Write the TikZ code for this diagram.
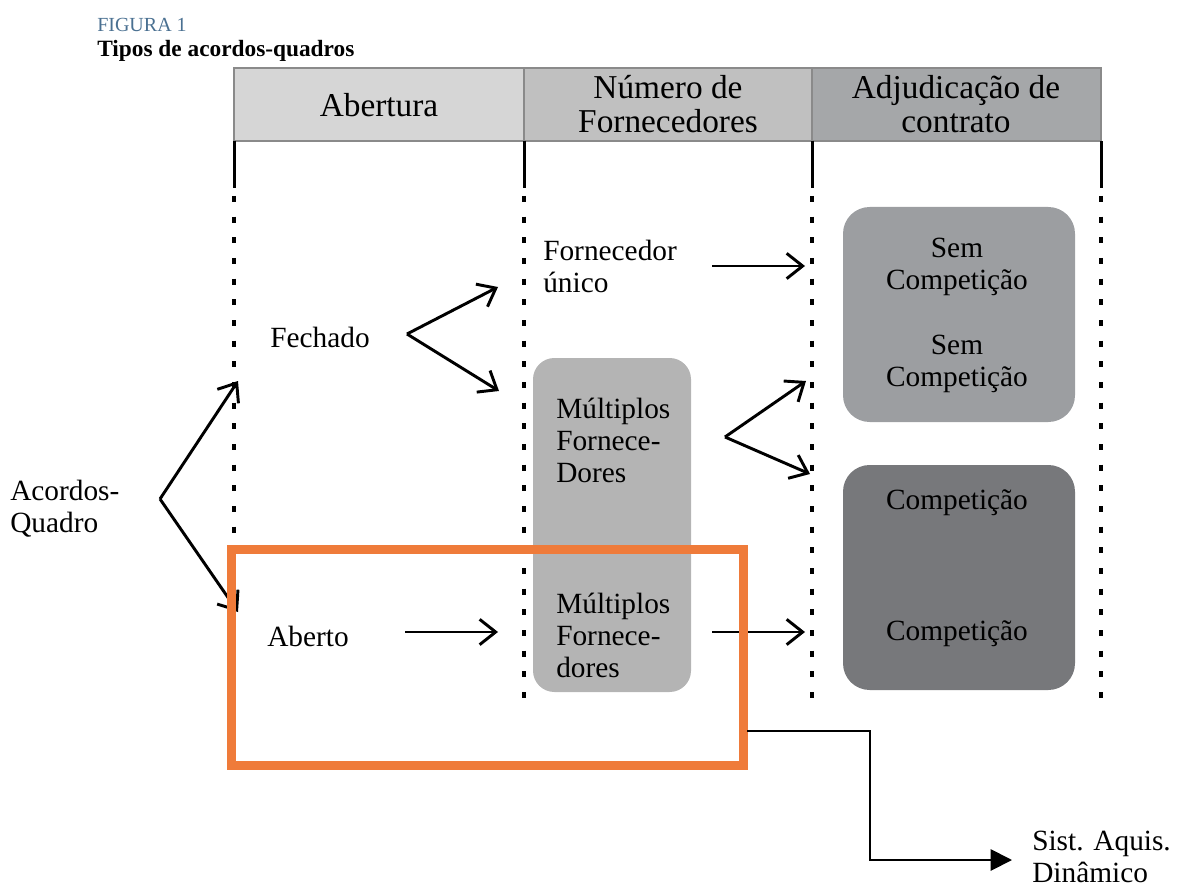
\documentclass[tikz,border=0pt]{standalone}
\usepackage{fontspec}
\setmainfont{Liberation Serif}
\usetikzlibrary{arrows.meta}
\definecolor{hdrA}{HTML}{D6D6D6}
\definecolor{hdrB}{HTML}{C0C0C0}
\definecolor{hdrC}{HTML}{A5A7A9}
\definecolor{hdrLine}{HTML}{8A8A8A}
\definecolor{boxMid}{HTML}{B4B4B4}
\definecolor{boxSem}{HTML}{9C9EA1}
\definecolor{boxComp}{HTML}{77787B}
\definecolor{frameOr}{HTML}{EF7B3A}
\definecolor{figBlue}{HTML}{4A7091}

\begin{document}
\begin{tikzpicture}[x=0.75pt,y=-0.75pt,
  hdrtext/.style={font=\fontsize{25}{25.5}\selectfont, align=center, inner sep=0},
  lbl/.style={font=\fontsize{22}{24}\selectfont, inner sep=0},
  lbll/.style={lbl, align=left, anchor=west},
  lblc/.style={lbl, align=center},
  colsolid/.style={line width=2.25pt},
  coldots/.style={line width=2.4pt, dash pattern=on 4.5pt off 11pt},
  arr/.style={line width=2.2pt, -{Straight Barb[length=12pt,width=19pt,line width=2.2pt]}},
  conn/.style={line width=1.4pt, -{Triangle[length=16pt,width=16pt]}},
  rbox/.style={rounded corners=20pt},
]
\useasboundingbox (0,0) rectangle (1185,891);

% caption
\node[anchor=west, inner sep=0, text=figBlue, font=\fontsize{15}{16}\selectfont] (fig) at (97,25) {FIGURA 1};
\node[anchor=west, inner sep=0, font=\fontsize{17.5}{18}\selectfont\bfseries] (tit) at (97,51) {Tipos de acordos-quadros};

% header row
\fill[hdrA] (234,68) rectangle (524,141);
\fill[hdrB] (524,68) rectangle (812,141);
\fill[hdrC] (812,68) rectangle (1101,141);
\draw[hdrLine, line width=1.5pt] (234,68) rectangle (1101,141)
  (524,68) -- (524,141) (812,68) -- (812,141);
\node[hdrtext] (hA) at (379,105) {Abertura};
\node[hdrtext] (hB) at (668,104) {Número de\\Fornecedores};
\node[hdrtext] (hC) at (956,104) {Adjudicação de\\contrato};

% column separators
\foreach \cx/\cy in {234/752, 524/712, 812/705, 1101/705} {
  \draw[colsolid] (\cx,141) -- (\cx,188);
  \draw[coldots] (\cx,196) -- (\cx,\cy);
}

% shaded boxes
\fill[boxMid, rounded corners=16pt] (533,358) rectangle (691,692);
\fill[boxSem, rbox] (843,207) rectangle (1075,422);
\fill[boxComp, rbox] (843,465) rectangle (1075,690);

% labels
\node[lbll] (acq) at (10,509) {Acordos-\\Quadro};
\node[lbl] (fech) at (320,337) {Fechado};
\node[lbl] (abe) at (308,636) {Aberto};
\node[lbll] (funi) at (543,266) {Fornecedor\\único};
\node[lbll] (mf1) at (556,440) {Múltiplos\\Fornece-\\Dores};
\node[lbll] (mf2) at (556,635) {Múltiplos\\Fornece-\\dores};
\node[lblc] (sem1) at (957,267) {Sem\\Competição};
\node[lblc] (sem2) at (957,364) {Sem\\Competição};
\node[lbl] (comp1) at (957,503) {Competição};
\node[lbl] (comp2) at (957,634) {Competição};
\node[lbll, font=\fontsize{22}{24}\selectfont] (sad) at (1032,857) {Sist. Aquis.\\Dinâmico};

% arrow vertices and tips
\coordinate (acqV) at (160,499);
\coordinate (fechT) at (238,381);
\coordinate (abeT) at (238,612);
\coordinate (fechV) at (407,334);
\coordinate (funiT) at (498,287);
\coordinate (mf1T) at (499,391);
\coordinate (funiS) at (712,266);
\coordinate (sem1T) at (805,266);
\coordinate (mfV) at (725,437);
\coordinate (sem2T) at (806,381);
\coordinate (compT) at (810,474);
\coordinate (abeS) at (405,632);
\coordinate (mf2T) at (498,632);
\coordinate (mf2S) at (712,632);
\coordinate (comp2T) at (805,632);

\draw[arr] (acqV) -- (fechT);
\draw[arr] (acqV) -- (abeT);
\draw[arr] (fechV) -- (funiT);
\draw[arr] (fechV) -- (mf1T);
\draw[arr] (funiS) -- (sem1T);
\draw[arr] (mfV) -- (sem2T);
\draw[arr] (mfV) -- (compT);
\draw[arr] (abeS) -- (mf2T);
\draw[arr] (mf2S) -- (comp2T);

% highlighted frame and its pointer
\draw[frameOr, line width=6.75pt] (231,549) rectangle (743,765);
\coordinate (frameR) at (747,731);
\coordinate (turn) at (870,860);
\draw[conn] (frameR) -| (turn) -- ([xshift=-15pt]sad.west |- turn);
\end{tikzpicture}
\end{document}
